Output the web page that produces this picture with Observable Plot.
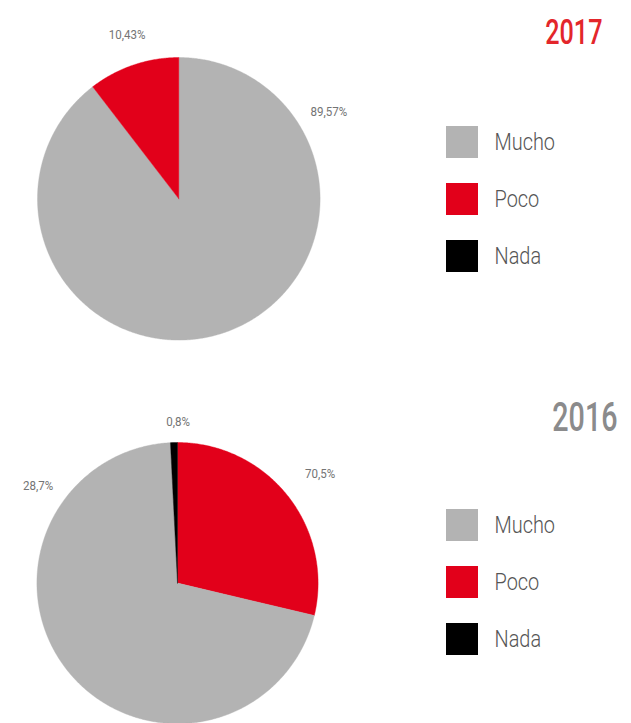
<!DOCTYPE html>
<html><head><meta charset="utf-8">
<script src="https://cdn.jsdelivr.net/npm/d3@7"></script>
<script src="https://cdn.jsdelivr.net/npm/@observablehq/plot@0.6"></script>
<style>body{margin:0;background:#fff}</style>
</head><body><div id="chart"></div>
<script>
// ---- data ----
const categories = ["Mucho", "Poco", "Nada"];
const colors = ["#b3b3b3", "#e2001a", "#000000"];
const years = ["2017", "2016"];
const values2017 = {Mucho: 89.57, Poco: 10.43, Nada: 0};
const values2016 = {Mucho: 70.5, Poco: 28.7, Nada: 0.8};
const sliceOrder2017 = ["Mucho", "Poco", "Nada"];
const sliceOrder2016 = ["Poco", "Mucho", "Nada"];
const labels2017 = ["89,57%", "10,43%"];
const labels2016 = ["70,5%", "28,7%", "0,8%"];

// ---- layout (pixels) ----
const layout = {
  "2017": {cx: 178.3, cy: 198.3, r: 141.3, titleX: 602, titleY: 43, titleColor: "#e3262b", titleSize: 36, legendY: 126,
           labelOffsets: [[150, -83.3], [-51.6, -160]]},
  "2016": {cx: 177, cy: 582.6, r: 140.6, titleX: 617, titleY: 430, titleColor: "#8b8b8c", titleSize: 41, legendY: 509,
           labelOffsets: [[142.7, -105.3], [-139.5, -93.3], [0.5, -157.6]]}
};
const W = 631, H = 723;
const legendX = 446, legendSize = 32, legendStep = 57, legendTextX = 494;

const pieValues = {"2017": values2017, "2016": values2016};
const pieOrder = {"2017": sliceOrder2017, "2016": sliceOrder2016};
const pieLabels = {"2017": labels2017, "2016": labels2016};

// slice polygons
const slicePts = [];
for (const yr of years) {
  const L = layout[yr];
  const arcs = d3.pie().sort(null).value(c => pieValues[yr][c]).startAngle(0).endAngle(2 * Math.PI)(pieOrder[yr]);
  for (const a of arcs) {
    if (a.endAngle - a.startAngle <= 0) continue;
    const id = yr + "-" + a.data;
    slicePts.push({id, category: a.data, x: L.cx, y: L.cy});
    const n = Math.max(2, Math.ceil((a.endAngle - a.startAngle) / (Math.PI / 360)));
    for (let i = 0; i <= n; i++) {
      const t = a.startAngle + (a.endAngle - a.startAngle) * i / n;
      slicePts.push({id, category: a.data, x: L.cx + L.r * Math.sin(t), y: L.cy - L.r * Math.cos(t)});
    }
    slicePts.push({id, category: a.data, x: L.cx, y: L.cy});
  }
}

const legendData = years.flatMap(yr => categories.map((c, i) => ({
  category: c,
  y1: layout[yr].legendY + i * legendStep,
  y2: layout[yr].legendY + i * legendStep + legendSize
})));

const labelData = years.flatMap(yr => pieLabels[yr].map((t, i) => ({
  text: t, x: layout[yr].cx + layout[yr].labelOffsets[i][0], y: layout[yr].cy + layout[yr].labelOffsets[i][1]
})));

const titleData = years.map(yr => ({text: yr, x: layout[yr].titleX, y: layout[yr].titleY, color: layout[yr].titleColor, size: layout[yr].titleSize}));

const svg = Plot.plot({
  width: W, height: H,
  margin: 0,
  style: {fontFamily: "Roboto, 'Liberation Sans', sans-serif", background: "#fff"},
  x: {domain: [0, W], range: [0, W], axis: null},
  y: {domain: [0, H], range: [0, H], axis: null},
  color: {domain: categories, range: colors},
  marks: [
    Plot.line(slicePts, {x: "x", y: "y", z: "id", fill: "category", stroke: "category", strokeWidth: 0.4, curve: "linear"}),
    Plot.rect(legendData, {x1: legendX, x2: legendX + legendSize, y1: "y1", y2: "y2", fill: "category"}),
    Plot.text(legendData, {x: legendTextX, y: d => (d.y1 + d.y2) / 2 + 7.5, text: "category", textAnchor: "start", lineAnchor: "bottom", fontSize: 24, fontWeight: 300, fill: "#555555"}),
    Plot.text(labelData, {x: "x", y: "y", text: "text", textAnchor: "middle", lineAnchor: "bottom", fontSize: 13, fill: "#747474"}),
    ...titleData.map(t => Plot.text([t], {x: "x", y: "y", text: "text", textAnchor: "end", lineAnchor: "bottom", fontSize: t.size, fontWeight: 500, fill: t.color}))
  ]
});
document.getElementById("chart").append(svg);

// condense glyphs horizontally to mimic a condensed typeface
svg.querySelectorAll("text").forEach(el => {
  const fs = parseFloat(getComputedStyle(el).fontSize);
  const f = fs >= 30 ? 0.7 : fs >= 20 ? 0.83 : 0.89;
  const tr = el.getAttribute("transform") || "";
  el.setAttribute("transform", tr + ` scale(${f},1)`);
});
</script>
</body></html>
